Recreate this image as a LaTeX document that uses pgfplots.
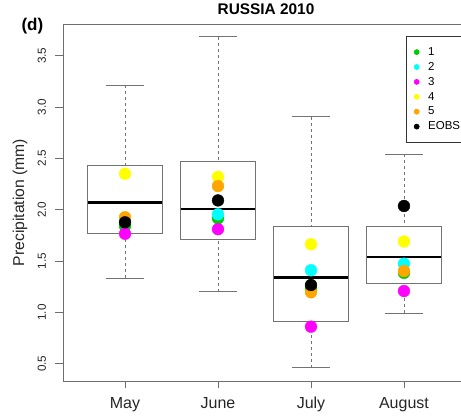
\documentclass[border=0pt]{standalone}
\usepackage{fontspec}
\setmainfont{Liberation Sans}
\usepackage{pgfplots}
\pgfplotsset{compat=1.18}
\usepgfplotslibrary{statistics}
\definecolor{gthree}{RGB}{0,205,0}
\definecolor{ccyan}{RGB}{0,255,255}
\definecolor{cmag}{RGB}{255,0,255}
\definecolor{cyel}{RGB}{255,255,0}
\definecolor{corange}{RGB}{255,165,0}
\definecolor{boxgray}{RGB}{115,115,115}
\definecolor{axgray}{RGB}{110,110,110}
\begin{document}
\begin{tikzpicture}
\begin{axis}[
  scale only axis, width=403pt, height=357pt,
  at={(0,0)}, anchor=south west,
  xmin=0.333, xmax=4.667, ymin=0.332, ymax=3.808,
  clip=false,
  axis line style={axgray, line width=0.9pt},
  tick style={axgray, line width=0.9pt},
  tick align=outside, major tick length=7.5pt,
  xtick pos=left, ytick pos=left,
  xtick={1,2,3,4}, xticklabels={May,June,July,August},
  ytick={0.5,1.0,1.5,2.0,2.5,3.0,3.5},
  yticklabels={0.5,1.0,1.5,2.0,2.5,3.0,3.5},
  /pgf/number format/assume math mode=true,
  xticklabel style={font=\fontsize{16}{18}\selectfont, text=black!85, yshift=-5pt},
  yticklabel style={font=\fontsize{11.7}{13}\selectfont, text=black!85, rotate=90, anchor=south, yshift=6pt},
  ylabel={Precipitation (mm)},
  every axis y label/.style={at={(rel axis cs:-0.1067,0.5)}, rotate=90, anchor=center,
     font=\fontsize{15.7}{18}\selectfont, text=black!85},
  title={\textbf{RUSSIA 2010}},
  title style={font=\fontsize{15.4}{17}\selectfont, at={(rel axis cs:0.5,1)}, anchor=base, yshift=3.3pt, xshift=1.5pt},
  legend style={at={(axis cs:4.02,3.691)}, anchor=north west, draw=black!80, line width=0.7pt,
    font=\fontsize{11.5}{13}\selectfont, inner xsep=8pt, inner ysep=9.5pt, row sep=2.4pt,
    nodes={inner sep=1pt, text height=8.5pt, text depth=2pt},
    /tikz/every odd column/.append style={column sep=8pt}},
  legend cell align=left,
  boxplot/draw direction=y,
  boxplot/draw/median/.code={\draw[black, line width=2.6pt]
     (boxplot box cs:\pgfplotsboxplotvalue{median},0) -- (boxplot box cs:\pgfplotsboxplotvalue{median},1);},
  boxplot/draw/lower whisker/.code={
     \draw[boxgray, line width=0.9pt, dash pattern=on 3pt off 3pt]
       (boxplot box cs:\pgfplotsboxplotvalue{lower whisker},0.5) -- (boxplot box cs:\pgfplotsboxplotvalue{lower quartile},0.5);
     \draw[boxgray, line width=1pt, solid]
       (boxplot whisker cs:\pgfplotsboxplotvalue{lower whisker},0) -- (boxplot whisker cs:\pgfplotsboxplotvalue{lower whisker},1);},
  boxplot/draw/upper whisker/.code={
     \draw[boxgray, line width=0.9pt, dash pattern=on 3pt off 3pt]
       (boxplot box cs:\pgfplotsboxplotvalue{upper whisker},0.5) -- (boxplot box cs:\pgfplotsboxplotvalue{upper quartile},0.5);
     \draw[boxgray, line width=1pt, solid]
       (boxplot whisker cs:\pgfplotsboxplotvalue{upper whisker},0) -- (boxplot whisker cs:\pgfplotsboxplotvalue{upper whisker},1);},
]
% boxes
\addplot[boxplot prepared={draw position=1, lower whisker=1.332, lower quartile=1.770, median=2.072, upper quartile=2.435, upper whisker=3.214, box extend=0.8, whisker extend=0.4}, draw=boxgray, line width=1pt, forget plot] coordinates {};
\addplot[boxplot prepared={draw position=2, lower whisker=1.202, lower quartile=1.705, median=2.007, upper quartile=2.474, upper whisker=3.685, box extend=0.8, whisker extend=0.4}, draw=boxgray, line width=1pt, forget plot] coordinates {};
\addplot[boxplot prepared={draw position=3, lower whisker=0.462, lower quartile=0.909, median=1.342, upper quartile=1.841, upper whisker=2.903, box extend=0.8, whisker extend=0.4}, draw=boxgray, line width=1pt, forget plot] coordinates {};
\addplot[boxplot prepared={draw position=4, lower whisker=0.991, lower quartile=1.283, median=1.539, upper quartile=1.841, upper whisker=2.540, box extend=0.8, whisker extend=0.4}, draw=boxgray, line width=1pt, forget plot] coordinates {};
% points
\addplot[only marks, mark=*, mark size=5.9pt, gthree, mark options={draw=none, fill=gthree}, forget plot] coordinates {(1,1.84) (2,1.916) (3,1.23) (4,1.385)};
\addplot[only marks, mark=*, mark size=5.9pt, ccyan, mark options={draw=none, fill=ccyan}, forget plot] coordinates {(1,1.89) (2,1.955) (3,1.41) (4,1.474)};
\addplot[only marks, mark=*, mark size=5.9pt, cmag, mark options={draw=none, fill=cmag}, forget plot] coordinates {(1,1.766) (2,1.81) (3,0.861) (4,1.208)};
\addplot[only marks, mark=*, mark size=5.9pt, cyel, mark options={draw=none, fill=cyel}, forget plot] coordinates {(1,2.35) (2,2.32) (3,1.663) (4,1.69)};
\addplot[only marks, mark=*, mark size=5.9pt, corange, mark options={draw=none, fill=corange}, forget plot] coordinates {(1,1.926) (2,2.23) (3,1.196) (4,1.403)};
\addplot[only marks, mark=*, mark size=5.9pt, black, mark options={draw=none, fill=black}, forget plot] coordinates {(1,1.877) (2,2.09) (3,1.267) (4,2.036)};
% legend
\addlegendimage{only marks, mark=*, mark size=2.5pt, gthree, mark options={draw=none, fill=gthree}}
\addlegendentry{1}
\addlegendimage{only marks, mark=*, mark size=2.5pt, ccyan, mark options={draw=none, fill=ccyan}}
\addlegendentry{2}
\addlegendimage{only marks, mark=*, mark size=2.5pt, cmag, mark options={draw=none, fill=cmag}}
\addlegendentry{3}
\addlegendimage{only marks, mark=*, mark size=2.5pt, cyel, mark options={draw=none, fill=cyel}}
\addlegendentry{4}
\addlegendimage{only marks, mark=*, mark size=2.5pt, corange, mark options={draw=none, fill=corange}}
\addlegendentry{5}
\addlegendimage{only marks, mark=*, mark size=2.5pt, black, mark options={draw=none, fill=black}}
\addlegendentry{EOBS}
\end{axis}
\node[anchor=base west, font=\fontsize{17}{19}\selectfont\bfseries, inner sep=0pt] at (-41.7pt,350.7pt) {(d)};
\pgfresetboundingbox
\path (-63pt,-36pt) rectangle (398pt,381pt);
\end{tikzpicture}
\end{document}
